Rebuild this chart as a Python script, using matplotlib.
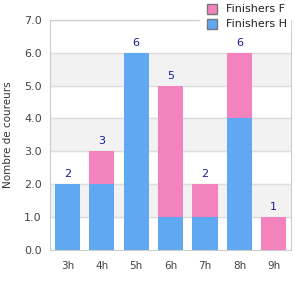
import numpy as np
import matplotlib
matplotlib.use("Agg")
import matplotlib.pyplot as plt
from matplotlib.lines import Line2D

hours = ["3h", "4h", "5h", "6h", "7h", "8h", "9h"]
finishers_h = [2, 2, 6, 1, 1, 4, 0]
finishers_f = [0, 1, 0, 4, 1, 2, 1]
totals = [h + f for h, f in zip(finishers_h, finishers_f)]

blue = "#61a8f2"
pink = "#f283bc"

fig = plt.figure(figsize=(3, 3), dpi=100)
ax = fig.add_axes([0.167, 0.167, 0.803, 0.767])

# bandes grises alternées
for y0 in [1, 3, 5]:
    ax.axhspan(y0, y0 + 1, color="#f2f2f2", zorder=0)
for y in range(1, 8):
    ax.axhline(y, color="#dddddd", lw=1, zorder=1)

x = np.arange(len(hours))
ax.bar(x, finishers_h, width=0.73, color=blue, zorder=2)
ax.bar(x, finishers_f, width=0.73, bottom=finishers_h, color=pink, zorder=2)

for xi, t in zip(x, totals):
    ax.text(xi, t + 0.15, str(t), ha="center", va="bottom", color="#1a1a99", fontsize=8)

ax.set_xlim(-0.5, len(hours) - 0.5)
ax.set_ylim(0, 7)
ax.set_xticks(x)
ax.set_xticklabels(hours)
ax.set_yticks(range(0, 8))
ax.set_yticklabels([f"{v:.1f}" for v in range(0, 8)])
ax.tick_params(length=0, colors="#444444", labelsize=8, pad=6)
ax.tick_params(axis="x", pad=8, labelsize=7.5)
for s in ax.spines.values():
    s.set_color("#cccccc")
ax.set_ylabel("Nombre de coureurs", fontsize=7.5, color="#333333", labelpad=8)

handles = [
    Line2D([], [], marker="s", ls="", markersize=7, markerfacecolor=pink, markeredgecolor="#777777"),
    Line2D([], [], marker="s", ls="", markersize=7, markerfacecolor=blue, markeredgecolor="#777777"),
]
leg = fig.legend(handles, ["Finishers F", "Finishers H"], loc="upper right",
                 bbox_to_anchor=(0.985, 1.015), fontsize=8, frameon=True,
                 facecolor="white", edgecolor="white", framealpha=1,
                 handletextpad=0.5, handlelength=1.5, labelspacing=0.45, borderpad=0.3)
for t in leg.get_texts():
    t.set_color("#222222")

plt.savefig("out.png", dpi=100)
